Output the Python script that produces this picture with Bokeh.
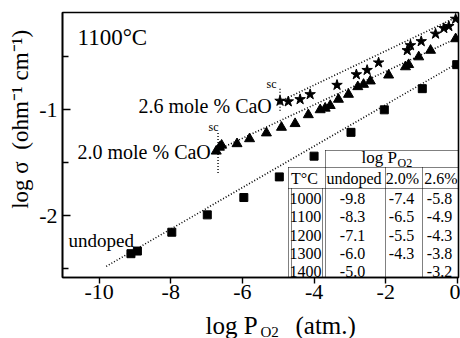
import math
from bokeh.plotting import figure
from bokeh.layouts import column, row
from bokeh.models import Range1d, FixedTicker, Label, ColumnDataSource
from bokeh.core.properties import value
from bokeh.embed import file_html
from bokeh.resources import INLINE

# ---------------- data ----------------
undoped_x = [-9.11, -8.93, -7.97, -6.98, -5.96, -4.97, -4.00, -2.97, -2.04, -0.98, -0.02]
undoped_y = [-2.36, -2.335, -2.157, -1.993, -1.829, -1.634, -1.438, -1.213, -1.0, -0.80, -0.573]

cao20_x = [-6.73, -6.64, -6.58, -6.15, -5.80, -5.33, -4.91, -4.53, -4.16, -3.83, -3.69, -3.55,
           -3.32, -3.04, -2.78, -2.62, -2.43, -1.92, -1.45, -1.36, -1.08, -0.75, -0.05]
cao20_y = [-1.391, -1.354, -1.335, -1.321, -1.274, -1.219, -1.166, -1.131, -1.047, -1.0, -0.985, -0.960,
           -0.901, -0.854, -0.782, -0.760, -0.728, -0.672, -0.594, -0.573, -0.500, -0.438, -0.329]

cao26_x = [-4.95, -4.72, -4.39, -4.11, -3.36, -2.82, -2.52, -2.20, -1.40, -1.31, -1.01, -0.61, -0.38, -0.24, -0.05]
cao26_y = [-0.916, -0.922, -0.901, -0.854, -0.766, -0.666, -0.625, -0.554, -0.438, -0.391, -0.353, -0.282, -0.229, -0.21, -0.141]

undoped_fit_x = [-9.8, 0.0]
undoped_fit_y = [-2.48, -0.56]
cao20_fit_x = [-6.7, 0.0]
cao20_fit_y = [-1.38, -0.32]
cao26_fit_x = [-4.95, 0.0]
cao26_fit_y = [-0.92, -0.12]

sc_x = [-6.68, -4.95]
sc_y_top = [-1.22, -0.80]
sc_y_bot = [-1.61, -1.02]

x_ticks = [-10, -8, -6, -4, -2, 0]
y_ticks = [-2, -1]
y_minor = [-2.5, -1.5, -0.5]

table_temps = ["1000", "1100", "1200", "1300", "1400"]
table_undoped = ["-9.8", "-8.3", "-7.1", "-6.0", "-5.0"]
table_cao20 = ["-7.4", "-6.5", "-5.5", "-4.3", ""]
table_cao26 = ["-5.8", "-4.9", "-4.3", "-3.8", "-3.2"]
table_header = ["T°C", "undoped", "2.0%", "2.6%"]

# ---------------- layout (page pixels) ----------------
PAGE_W, PAGE_H = 460, 338
YSTRIP_W = 36            # strip holding the y-axis title
XSTRIP_H = 28            # strip holding the x-axis title
MAIN_W = PAGE_W - YSTRIP_W
MAIN_H = PAGE_H - XSTRIP_H

X0, X1 = -11.02, 0.03
Y0, Y1 = -2.585, -0.08
L, R, T, B = 62, 458, 12, 277   # frame edges in page pixels

def dx(px):
    return X0 + (px - L) * (X1 - X0) / (R - L)

def dy(py):
    return Y1 - (py - T) * (Y1 - Y0) / (B - T)

FONT = "Liberation Serif"

p = figure(width=MAIN_W, height=MAIN_H, output_backend="svg", toolbar_location=None,
           x_range=Range1d(X0, X1), y_range=Range1d(Y0, Y1),
           min_border_left=L - YSTRIP_W, min_border_right=PAGE_W - R,
           min_border_top=T, min_border_bottom=MAIN_H - B)
p.background_fill_color = "white"
p.border_fill_color = "white"
p.grid.visible = False
p.outline_line_color = "black"
p.outline_line_width = 1.6

# axes
p.xaxis.ticker = FixedTicker(ticks=x_ticks, minor_ticks=[])
p.yaxis.ticker = FixedTicker(ticks=y_ticks, minor_ticks=y_minor)
p.xaxis.major_label_overrides = {t: str(t) for t in x_ticks}
p.yaxis.major_label_overrides = {t: str(t) for t in y_ticks}
for ax in (p.xaxis[0], p.yaxis[0]):
    ax.axis_line_color = "black"
    ax.axis_line_width = 1.6
    ax.major_tick_line_color = "black"
    ax.minor_tick_line_color = "black"
    ax.major_tick_line_width = 1.4
    ax.minor_tick_line_width = 1.4
    ax.major_label_text_font = FONT
    ax.major_label_text_font_size = "22px"
    ax.major_label_text_color = "black"
p.xaxis.major_tick_in = 0
p.xaxis.major_tick_out = 6
p.xaxis.minor_tick_in = 0
p.xaxis.minor_tick_out = 0
p.xaxis.major_label_standoff = 1
p.yaxis.major_tick_in = 8
p.yaxis.major_tick_out = 0
p.yaxis.minor_tick_in = 6
p.yaxis.minor_tick_out = 0
p.yaxis.major_label_standoff = 5

# fit lines
for fx, fy in ((undoped_fit_x, undoped_fit_y), (cao20_fit_x, cao20_fit_y), (cao26_fit_x, cao26_fit_y)):
    p.line(fx, fy, line_color="black", line_width=1.6, line_dash="1 2")

# sc markers
p.segment(x0=sc_x, y0=sc_y_top, x1=sc_x, y1=sc_y_bot, line_color="black", line_width=1.4, line_dash="1 2")

# data points
p.scatter(undoped_x, undoped_y, marker="square", size=8, fill_color="black", line_color="black")
p.scatter(cao20_x, cao20_y, marker="triangle", size=10, fill_color="black", line_color="black")
p.scatter(cao26_x, cao26_y, marker="star", size=11, fill_color="black", line_color="black")

def lab(px, py, text, size, align="left"):
    # py is the vertical centre of the text
    p.add_layout(Label(x=dx(px), y=dy(py), text=text, text_font=FONT, text_font_size=f"{size}px",
                       text_color="black", text_align=align, text_baseline="middle"))

# in-plot labels
lab(77, 37, "1100°C", 23)
lab(138, 105, "2.6 mole % CaO", 20)
lab(77, 151, "2.0 mole % CaO", 20)
lab(68, 239.5, "undoped", 19)
lab(213, 126, "sc", 12, align="center")
lab(271, 83, "sc", 12, align="center")

# table grid
h_x0 = [dx(325), dx(288), dx(288)]
h_x1 = [dx(R), dx(R), dx(R)]
h_y = [dy(150), dy(167), dy(188)]
p.segment(x0=h_x0, y0=h_y, x1=h_x1, y1=h_y, line_color="black", line_width=1.2, line_dash="1 1")
v_x = [dx(288), dx(291), dx(322), dx(325), dx(385), dx(422)]
v_y0 = [dy(167), dy(188), dy(188), dy(150), dy(167), dy(167)]
v_y1 = [dy(B)] * 6
p.segment(x0=v_x, y0=v_y0, x1=v_x, y1=v_y1, line_color="black", line_width=1.0, line_dash="1 1")

# table title
lab(361, 156.5, "log P", 17)
lab(397, 162, "O2", 12)

# table header
hdr_px = [304, 353.5, 402, 440.5]
p.text(x=[dx(v) for v in hdr_px], y=[dy(178)] * 4, text=table_header,
       text_font=value(FONT), text_font_size="16px", text_align="center", text_baseline="middle",
       text_color="black")

# table body
row_py = [198.3 + i * 18.1 for i in range(len(table_temps))]
for col_px, col in ((305, table_temps), (352, table_undoped), (401, table_cao20), (439, table_cao26)):
    src = ColumnDataSource(dict(x=[dx(col_px)] * len(col), y=[dy(v) for v in row_py], t=col))
    p.text(x="x", y="y", text="t", source=src, text_font=value(FONT), text_font_size="16px",
           text_align="center", text_baseline="middle", text_color="black")

# ---------------- axis-title strips ----------------
def strip(w, h):
    f = figure(width=w, height=h, output_backend="svg", toolbar_location=None,
               x_range=Range1d(0, w), y_range=Range1d(0, h),
               x_axis_type=None, y_axis_type=None,
               min_border=0, min_border_left=0, min_border_right=0,
               min_border_top=0, min_border_bottom=0)
    f.grid.visible = False
    f.outline_line_color = None
    f.background_fill_color = "white"
    f.border_fill_color = "white"
    return f

# y title strip: page x 0..36, page y 0..MAIN_H
ys = strip(YSTRIP_W, MAIN_H)
ys.text(x=[20], y=[MAIN_H - 125], text=["log σ\u00a0\u00a0(ohm⁻¹ cm⁻¹)"], angle=math.pi / 2,
        text_font=value(FONT), text_font_size="23px", text_align="center", text_baseline="middle",
        text_color="black")

# x title strip: page x 0..460, page y MAIN_H..338
xs = strip(PAGE_W, XSTRIP_H)
def xt(px, py, text, size):
    xs.text(x=[px], y=[PAGE_H - py], text=[text], text_font=value(FONT), text_font_size=f"{size}px",
            text_align="left", text_baseline="middle", text_color="black")
xt(205, 324.5, "log P", 25)
xt(260, 331, "O2", 15)
xt(295, 324.5, "(atm.)", 25)

layout = column(row(ys, p, spacing=0), xs, spacing=0)
open("out.html", "w").write(file_html(layout, INLINE))
